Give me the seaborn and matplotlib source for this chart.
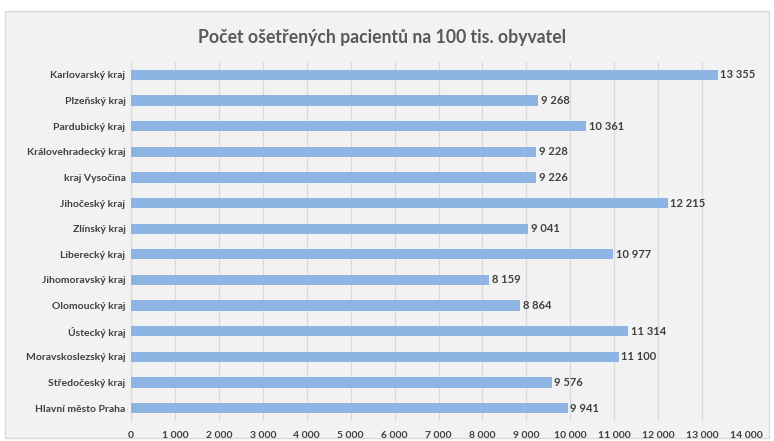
import numpy as np
import pandas as pd
import matplotlib.pyplot as plt
import matplotlib.patches as patches
import seaborn as sns

regions = ['Karlovarský kraj', 'Plzeňský kraj', 'Pardubický kraj', 'Královehradecký kraj',
           'kraj Vysočina', 'Jihočeský kraj', 'Zlínský kraj', 'Liberecký kraj',
           'Jihomoravský kraj', 'Olomoucký kraj', 'Ústecký kraj', 'Moravskoslezský kraj',
           'Středočeský kraj', 'Hlavní město Praha']
patients = [13355, 9268, 10361, 9228, 9226, 12215, 9041, 10977, 8159, 8864, 11314, 11100, 9576, 9941]
xticks = list(range(0, 15000, 1000))

df = pd.DataFrame({'kraj': regions, 'pocet': patients})

def fmt(v):
    return f'{v:,}'.replace(',', ' ')

sns.set_style('white')
plt.rcParams['font.family'] = ['Lato', 'DejaVu Sans']

fig = plt.figure(figsize=(7.74, 4.41), dpi=100)
fig.patch.set_facecolor('white')
# chart area frame (drawn behind the axes)
fig.patches.append(patches.Rectangle((5 / 774, 3 / 441), 764 / 774, 427 / 441,
                                     transform=fig.transFigure, facecolor='#F2F2F2',
                                     edgecolor='#D9D9D9', linewidth=1, zorder=-5))

ax = fig.add_axes([131 / 774, 1 - 421 / 441, 615 / 774, 359 / 441])
ax.patch.set_alpha(0)

sns.barplot(data=df, x='pocet', y='kraj', color='#8DB4E2', width=0.4,
            saturation=1, linewidth=0, ax=ax, zorder=3)

ax.set_xlim(0, 14000)
ax.set_xticks(xticks)
ax.set_xticklabels([fmt(t) for t in xticks], fontsize=7.5, color='#404040', fontweight='bold')
ax.tick_params(axis='y', labelsize=7.5, labelcolor='#404040', length=0, pad=4)
ax.tick_params(axis='x', length=0, pad=7)
for lbl in ax.get_yticklabels():
    lbl.set_fontweight('bold')
ax.grid(axis='x', color='#D9D9D9', linewidth=0.9, zorder=0)
ax.set_axisbelow(True)
for s in ['top', 'right', 'bottom']:
    ax.spines[s].set_visible(False)
ax.spines['left'].set_color('#D9D9D9')
ax.set_xlabel('')
ax.set_ylabel('')

for i, v in enumerate(patients):
    ax.text(v + 60, i, fmt(v), va='center', ha='left', fontsize=8,
            fontweight='bold', color='#404040', zorder=4)

fig.text(382 / 774, 1 - 38 / 441, 'Počet ošetřených pacientů na 100 tis. obyvatel',
         ha='center', va='center', fontsize=12.7, fontweight='bold', color='#595959')

fig.savefig('out.png', dpi=100)
